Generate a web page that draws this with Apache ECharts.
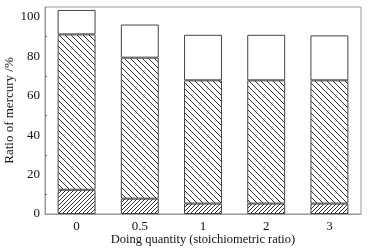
<!DOCTYPE html>
<html>
<head>
<meta charset="utf-8">
<script src="https://cdn.jsdelivr.net/npm/echarts@6/dist/echarts.min.js"></script>
<style>
  html, body { margin: 0; padding: 0; background: #fff; }
  #main { width: 368px; height: 252px; }
</style>
</head>
<body>
<div id="main"></div>
<script>
// data
var categories = ["0", "0.5", "1", "2", "3"];
var bottomPart = [12.3, 7.8, 5.3, 5.3, 5.3];
var middlePart = [78.8, 71.5, 62.5, 62.5, 62.5];
var topPart = [12.4, 16.8, 23.1, 23.1, 22.8];

// hatch tile
function hatch(size, forward) {
  var c = document.createElement("canvas");
  c.width = size;
  c.height = size;
  var ctx = c.getContext("2d");
  ctx.fillStyle = "#fff";
  ctx.fillRect(0, 0, size, size);
  ctx.strokeStyle = "#333";
  ctx.lineWidth = 1;
  ctx.beginPath();
  if (forward) {
    ctx.moveTo(-1, size + 1);
    ctx.lineTo(size + 1, -1);
    ctx.moveTo(-1, 1);
    ctx.lineTo(1, -1);
    ctx.moveTo(size - 1, size + 1);
    ctx.lineTo(size + 1, size - 1);
  } else {
    ctx.moveTo(-1, -1);
    ctx.lineTo(size + 1, size + 1);
    ctx.moveTo(size - 1, -1);
    ctx.lineTo(size + 1, 1);
    ctx.moveTo(-1, size - 1);
    ctx.lineTo(1, size + 1);
  }
  ctx.stroke();
  return c;
}

var font = "Liberation Serif";
var chart = echarts.init(document.getElementById("main"));

var barStyle = {
  borderColor: "#444",
  borderWidth: 1
};

var option = {
  animation: false,
  grid: {
    left: 45,
    right: 7,
    top: 7,
    bottom: 38,
    containLabel: false,
    outerBoundsMode: "none",
    show: true,
    borderColor: "#999",
    borderWidth: 1
  },
  xAxis: {
    type: "category",
    data: categories,
    name: "Doing quantity (stoichiometric ratio)",
    nameLocation: "middle",
    nameGap: 19,
    nameMoveOverlap: false,
    nameTextStyle: { fontFamily: font, fontSize: 12.5, color: "#111" },
    axisLine: { lineStyle: { color: "#999" } },
    axisTick: { inside: true, length: 2, lineStyle: { color: "#666" } },
    axisLabel: { fontFamily: font, fontSize: 13, color: "#111", margin: 6 }
  },
  yAxis: {
    type: "value",
    min: 0,
    max: 105,
    interval: 20,
    name: "Ratio of mercury /%",
    nameLocation: "middle",
    nameGap: 29,
    nameMoveOverlap: false,
    nameTextStyle: { fontFamily: font, fontSize: 13, color: "#111" },
    axisLine: { show: true, lineStyle: { color: "#999" } },
    axisTick: { inside: true, length: 3, lineStyle: { color: "#666" } },
    minorTick: { show: true, splitNumber: 2, length: 2, lineStyle: { color: "#666" } },
    splitLine: { show: false },
    axisLabel: { fontFamily: font, fontSize: 13, color: "#111", margin: 5 }
  },
  series: [
    {
      type: "bar",
      stack: "hg",
      barWidth: "60%",
      data: bottomPart,
      itemStyle: Object.assign({ color: { image: hatch(4, true), repeat: "repeat" } }, barStyle)
    },
    {
      type: "bar",
      stack: "hg",
      data: middlePart,
      itemStyle: Object.assign({ color: { image: hatch(6, false), repeat: "repeat" } }, barStyle)
    },
    {
      type: "bar",
      stack: "hg",
      data: topPart,
      itemStyle: Object.assign({ color: "#fff" }, barStyle)
    }
  ]
};
chart.setOption(option);
</script>
</body>
</html>
